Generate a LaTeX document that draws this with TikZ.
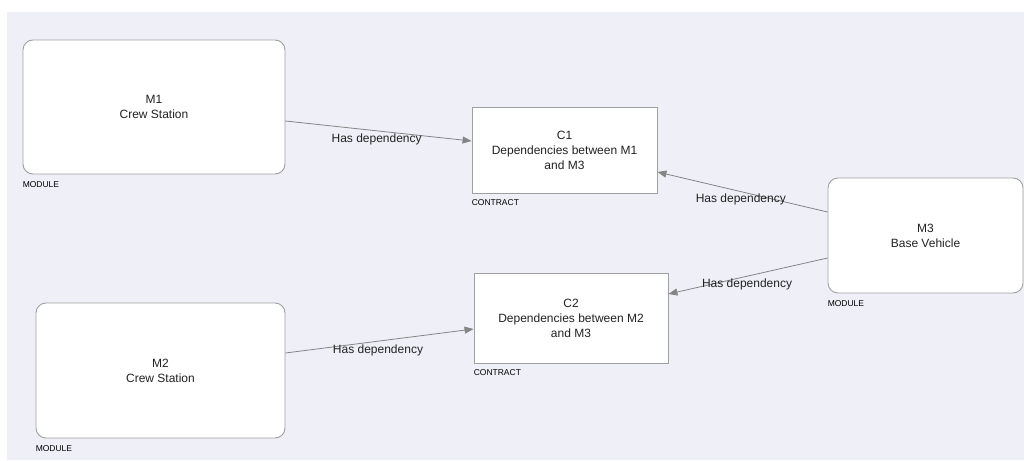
\documentclass[tikz,border=0pt]{standalone}
\usepackage{fontspec}
\setmainfont{Liberation Sans}
\usetikzlibrary{arrows.meta}
\definecolor{bgc}{HTML}{EFEFF8}
\definecolor{boxline}{HTML}{A0A0A0}
\definecolor{arrowc}{HTML}{858585}
\definecolor{txt}{HTML}{222222}
\tikzset{
  modbox/.style={draw=boxline, line width=0.9pt, fill=white, rounded corners=10pt,
    align=center, text=txt, font=\fontsize{12}{15}\selectfont, inner sep=0pt},
  conbox/.style={draw=boxline, line width=0.9pt, fill=white,
    align=center, text=txt, font=\fontsize{12}{15}\selectfont, inner sep=0pt},
  tag/.style={anchor=base west, inner sep=0pt, text=black, font=\fontsize{8.5}{10}\selectfont},
  dep/.style={draw=arrowc, line width=0.8pt, -{Triangle[length=9pt,width=7pt]}},
  deplabel/.style={text=txt, font=\fontsize{12}{14}\selectfont, inner sep=0pt}
}
\begin{document}
\begin{tikzpicture}[x=1pt,y=1pt]
\useasboundingbox (0,0) rectangle (1024,-460);
\fill[bgc] (7,-12) rectangle (1024,-460);

\node[modbox, minimum width=262pt, minimum height=134pt] (M1) at (154,-107) {M1\\Crew Station};
\node[conbox, minimum width=185pt, minimum height=86pt] (C1) at (564.5,-150) {C1\\Dependencies between M1\\and M3};
\node[modbox, minimum width=195pt, minimum height=115pt] (M3) at (925.5,-235.5) {M3\\Base Vehicle};
\node[conbox, minimum width=194pt, minimum height=90pt] (C2) at (571,-318) {C2\\Dependencies between M2\\and M3};
\node[modbox, minimum width=249pt, minimum height=135pt] (M2) at (160.5,-370.5) {M2\\Crew Station};

\node[tag] (t1) at ([yshift=-13pt]M1.south west) {MODULE};
\node[tag] (t2) at ([yshift=-12.5pt]C1.south west) {CONTRACT};
\node[tag] (t3) at ([yshift=-13pt]M3.south west) {MODULE};
\node[tag] (t4) at ([yshift=-12.5pt]C2.south west) {CONTRACT};
\node[tag] (t5) at ([yshift=-13pt]M2.south west) {MODULE};

\draw[dep] ([yshift=-14pt]M1.east) -- node[deplabel, pos=0.49, yshift=-9pt] (l1) {Has dependency} ([yshift=9pt]C1.west);
\draw[dep] ([yshift=23.5pt]M3.west) -- node[deplabel, pos=0.51, yshift=-8pt] (l2) {Has dependency} ([yshift=-22pt]C1.east);
\draw[dep] ([yshift=-22.5pt]M3.west) -- node[deplabel, pos=0.506, yshift=-8.5pt] (l3) {Has dependency} ([yshift=24pt]C2.east);
\draw[dep] ([yshift=17.5pt]M2.east) -- node[deplabel, pos=0.492, yshift=-9.5pt] (l4) {Has dependency} ([yshift=-11pt]C2.west);
\end{tikzpicture}
\end{document}
